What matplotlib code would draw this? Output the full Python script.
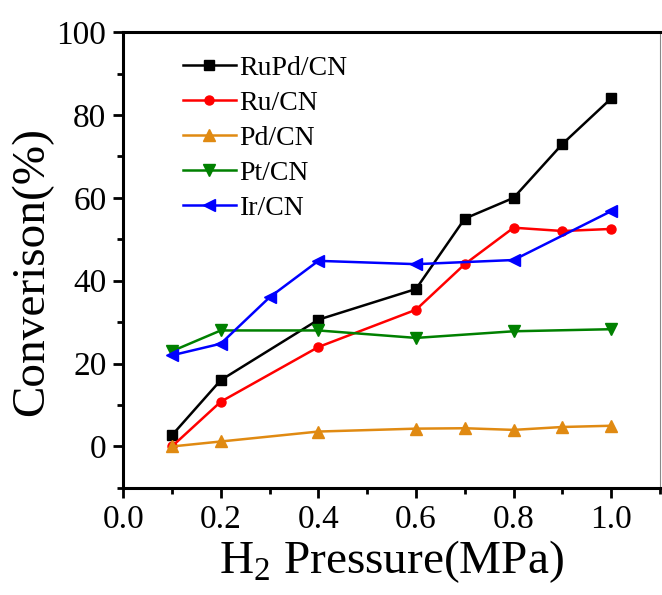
import matplotlib
matplotlib.use('Agg')
import matplotlib.pyplot as plt
from matplotlib.ticker import MultipleLocator

plt.rcParams['font.family'] = ['Liberation Serif', 'DejaVu Serif']
plt.rcParams['mathtext.fontset'] = 'custom'
plt.rcParams['mathtext.rm'] = 'Liberation Serif'

# data
x_rupd = [0.1, 0.2, 0.4, 0.6, 0.7, 0.8, 0.9, 1.0]
y_rupd = [2.7, 16.0, 30.6, 38.0, 55.0, 60.0, 73.0, 84.0]

x_ru = [0.1, 0.2, 0.4, 0.6, 0.7, 0.8, 0.9, 1.0]
y_ru = [0.0, 10.8, 24.0, 33.0, 44.0, 52.8, 52.0, 52.5]

x_pd = [0.1, 0.2, 0.4, 0.6, 0.7, 0.8, 0.9, 1.0]
y_pd = [0.0, 1.2, 3.6, 4.3, 4.4, 4.0, 4.7, 5.0]

x_pt = [0.1, 0.2, 0.4, 0.6, 0.8, 1.0]
y_pt = [23.0, 28.0, 28.0, 26.2, 27.8, 28.3]

x_ir = [0.1, 0.2, 0.3, 0.4, 0.6, 0.8, 1.0]
y_ir = [22.0, 24.8, 36.0, 44.8, 44.0, 45.0, 56.8]

fig = plt.figure(figsize=(6.62, 5.95), dpi=100)
ax = fig.add_axes([0.186, 0.18, 0.811, 0.766])

lw = 1.8
ax.plot(x_rupd, y_rupd, color='black', marker='s', ms=6.5, lw=lw, label='RuPd/CN')
ax.plot(x_ru, y_ru, color='#FF0000', marker='o', ms=6.5, lw=lw, label='Ru/CN')
ax.plot(x_pd, y_pd, color='#E08A12', marker='^', ms=8.5, lw=lw, label='Pd/CN')
ax.plot(x_pt, y_pt, color='#008000', marker='v', ms=8.5, lw=lw, label='Pt/CN')
ax.plot(x_ir, y_ir, color='#0000FF', marker='<', ms=8.5, lw=lw, label='Ir/CN')

ax.set_xlim(0, 1.1)
ax.set_ylim(-10, 100)
ax.xaxis.set_minor_locator(MultipleLocator(0.1))
ax.yaxis.set_major_locator(MultipleLocator(20))
ax.yaxis.set_minor_locator(MultipleLocator(10))
ax.set_xticks([0.0, 0.2, 0.4, 0.6, 0.8, 1.0])
ax.set_xticklabels(['0.0', '0.2', '0.4', '0.6', '0.8', '1.0'])

ax.tick_params(which='major', direction='out', length=7, width=2, labelsize=24, pad=5,
               top=False, right=False)
ax.tick_params(which='minor', direction='out', length=4, width=2, top=False, right=False)

for side in ['left', 'bottom', 'top']:
    ax.spines[side].set_linewidth(2.2)
ax.spines['right'].set_linewidth(0.8)
ax.spines['right'].set_color('#888888')

ax.set_xlabel(r'H$_2$ Pressure(MPa)', fontsize=34, labelpad=2)
ax.set_ylabel('Converison(%)', fontsize=34)
ax.yaxis.set_label_coords(-0.13, 0.475)

ax.legend(loc='upper left', bbox_to_anchor=(0.091, 0.974), frameon=False, fontsize=20,
          handlelength=1.9, handletextpad=0.13, labelspacing=0.345, borderaxespad=0)

fig.savefig('out.png', dpi=100)
